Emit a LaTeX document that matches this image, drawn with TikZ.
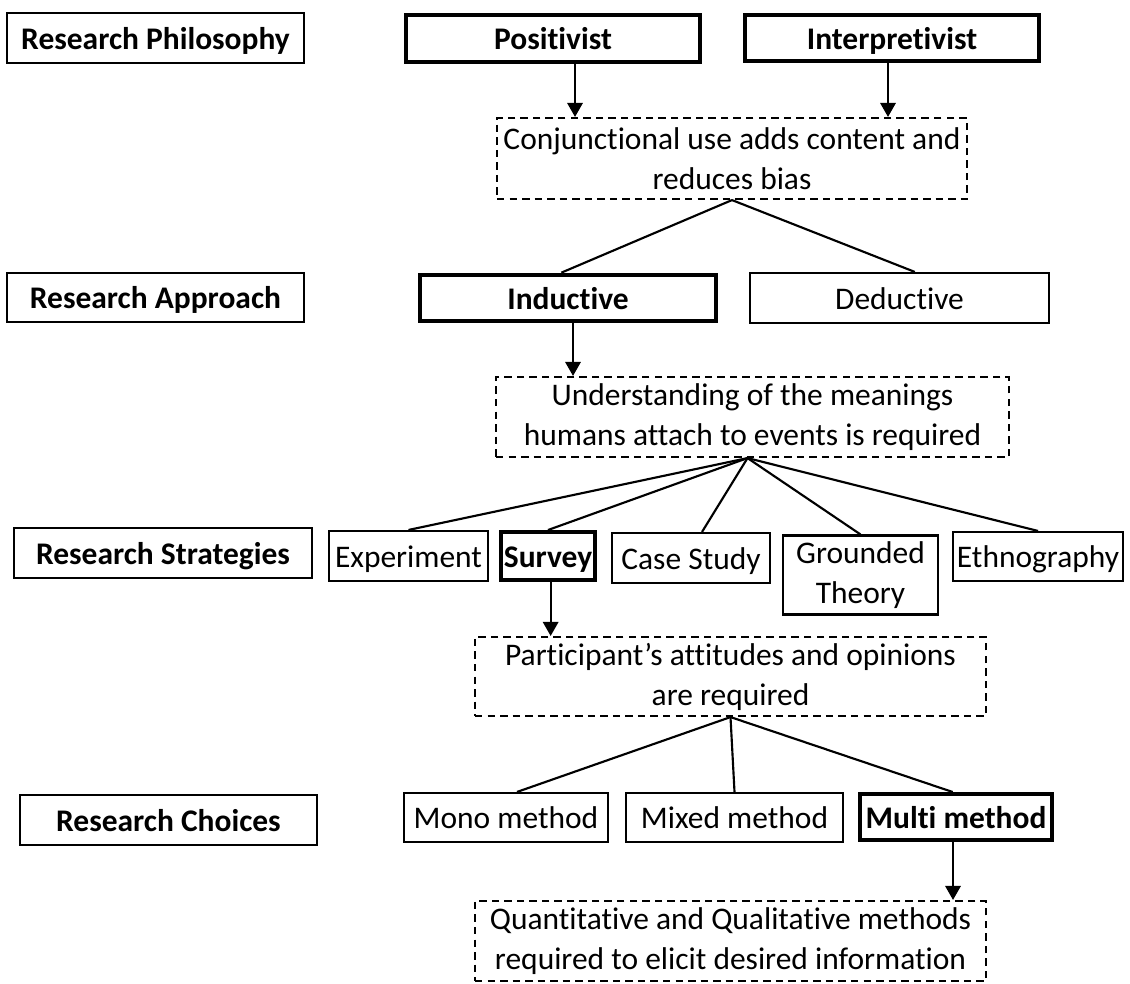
\documentclass[tikz,border=0pt]{standalone}
\usepackage{fontspec}
\setmainfont{Carlito}[Ligatures={NoCommon,NoRequired,NoContextual}]
\usetikzlibrary{arrows.meta}
\begin{document}
\begin{tikzpicture}[x=0.75pt, y=-0.75pt,
    font=\fontsize{23.6}{30}\selectfont,
    plainbox/.style={draw=black, line width=1.6pt, inner sep=0pt, align=center},
    oneline/.style={text height=21pt, text depth=4pt},
    keybox/.style={draw=black, line width=3pt, inner sep=0pt, align=center, oneline, font=\fontsize{23.6}{30}\selectfont\bfseries},
    levelbox/.style={plainbox, oneline, font=\fontsize{23.6}{30}\selectfont\bfseries},
    notebox/.style={draw=black, line width=1.6pt, dash pattern=on 5.6pt off 3.8pt, inner sep=0pt, align=center},
    link/.style={draw=black, line width=1.6pt},
    arr/.style={draw=black, line width=1.6pt, -{Triangle[width=11.5pt,length=10.5pt]}}]
\useasboundingbox (0,0) rectangle (1130,983);
\node[levelbox, minimum width=222.75pt, minimum height=37.5pt] (phil) at (155.5,38) {Research Philosophy};
\node[keybox, minimum width=221pt, minimum height=35pt] (posit) at (553,38.5) {Positivist};
\node[keybox, minimum width=221pt, minimum height=35pt] (interp) at (892,38) {Interpretivist};
\node[notebox, minimum width=352.5pt, minimum height=60.75pt] (conj) at (732,158.5) {Conjunctional use adds content and\\reduces bias};
\coordinate (pa) at (575,0);
\coordinate (ia) at (888,0);
\draw[arr] (posit.south -| pa) -- (conj.north -| pa);
\draw[arr] (interp.south -| ia) -- (conj.north -| ia);
\node[levelbox, minimum width=222.75pt, minimum height=36.75pt] (appr) at (155.5,297.5) {Research Approach};
\node[keybox, minimum width=222pt, minimum height=35pt] (induct) at (568,298) {Inductive};
\node[plainbox, oneline, minimum width=224.25pt, minimum height=37.5pt] (deduct) at (899.5,298) {Deductive};
\draw[link] (conj.south) -- ([xshift=-5pt]induct.north);
\draw[link] (conj.south) -- ([xshift=11.5pt]deduct.north);
\node[notebox, minimum width=384.75pt, minimum height=60pt] (under) at (752.5,417) {Understanding of the meanings\\humans attach to events is required};
\coordinate (ua) at (573,0);
\draw[arr] (induct.south -| ua) -- (under.north -| ua);
\node[levelbox, minimum width=223.5pt, minimum height=37.5pt] (strat) at (163,553) {Research Strategies};
\node[plainbox, oneline, minimum width=119.25pt, minimum height=37.5pt] (exper) at (408.5,556) {Experiment};
\node[keybox, minimum width=71pt, minimum height=36pt] (survey) at (548,556) {Survey};
\node[plainbox, oneline, minimum width=118.5pt, minimum height=37.5pt] (casest) at (691,558) {Case Study};
\node[plainbox, minimum width=116.25pt, minimum height=59.25pt] (ground) at (860.5,575) {Grounded\\Theory};
\node[plainbox, oneline, minimum width=127.5pt, minimum height=36.75pt] (ethno) at (1038,556.5) {Ethnography};
\coordinate (apex) at ([xshift=-3.75pt]under.south);
\draw[link] (apex) -- (exper.north);
\draw[link] (apex) -- (survey.north);
\draw[link] (apex) -- ([xshift=8.25pt]casest.north);
\draw[link] (apex) -- (ground.north);
\draw[link] (apex) -- (ethno.north);
\node[notebox, minimum width=383.25pt, minimum height=59.25pt] (partic) at (730.5,676.5) {Participant’s attitudes and opinions\\are required};
\draw[arr] ([xshift=2pt]survey.south) -- ([xshift=2pt]survey.south |- partic.north);
\node[levelbox, minimum width=222.75pt, minimum height=37.5pt] (choice) at (168.5,820) {Research Choices};
\node[plainbox, oneline, minimum width=153pt, minimum height=36.75pt] (mono) at (506,817.5) {Mono method};
\node[plainbox, oneline, minimum width=162.75pt, minimum height=36.75pt] (mixed) at (734.5,817.5) {Mixed method};
\node[keybox, minimum width=144pt, minimum height=34.5pt] (multi) at (956,817) {Multi method};
\draw[link] (partic.south) -- ([xshift=8.25pt]mono.north);
\draw[link] (partic.south) -- (mixed.north);
\draw[link] (partic.south) -- ([xshift=-2.5pt]multi.north);
\node[notebox, minimum width=383.25pt, minimum height=60pt] (quant) at (730.5,941) {Quantitative and Qualitative methods\\required to elicit desired information};
\draw[arr] ([xshift=-2.25pt]multi.south) -- ([xshift=-2.25pt]multi.south |- quant.north);
\end{tikzpicture}
\end{document}
